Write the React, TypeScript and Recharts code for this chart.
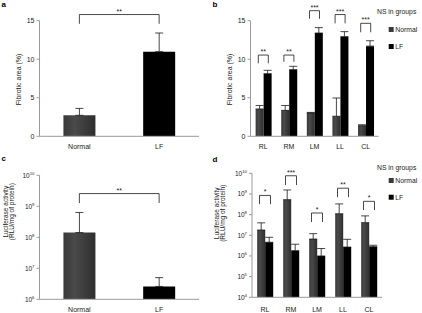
import React from "react";
import {
  Bar,
  BarChart,
  Cell,
  ErrorBar,
  Legend,
  ReferenceLine,
  XAxis,
  YAxis,
} from "recharts";

// panels a/c: whole lung, Normal vs LF
const groups = ["Normal", "LF"];
const fibroticMean = [2.72, 10.98];
const fibroticErr = [0.9, 2.42];
const fibroticBracket = [15.8, 14.6]; // top, foot
const lucMean = [1.42e8, 2.6e6];
const lucErr = [4.9e8, 2.4e6];
const lucBracket = [2.57e9, 1.27e9];

// panels b/d: per lobe
const lobes = ["RL", "RM", "LM", "LL", "CL"];
const lobeFibNormal = [3.55, 3.37, 3.03, 2.6, 1.38];
const lobeFibNormalErr = [0.45, 0.63, 0.07, 2.37, 0.12];
const lobeFibLF = [8.13, 8.65, 13.4, 12.93, 11.7];
const lobeFibLFErr = [0.43, 0.43, 0.7, 0.65, 0.7];
const lobeFibTop = [10.54, 10.54, 16.3, 15.8, 14.66];
const lobeFibFoot = [9.47, 9.67, 15.25, 14.66, 13.5];
const lobeFibMarks = ["**", "**", "***", "***", "***"];

const lobeLucNormal = [1.8e7, 5.3e8, 6.6e6, 1.1e8, 4.1e7];
const lobeLucNormalErr = [2.2e7, 1.03e9, 5.4e6, 2.2e8, 4.6e7];
const lobeLucLF = [4.6e6, 1.8e6, 1.0e6, 2.7e6, 2.8e6];
const lobeLucLFErr = [3.4e6, 1.9e6, 1.3e6, 3.7e6, 0.5e6];
const lobeLucTop = [8.5e8, 7.6e9, 1.2e8, 1.9e9, 4.4e8];
const lobeLucFoot = [3.2e8, 2.7e9, 4.4e7, 7.0e8, 1.66e8];
const lobeLucMarks = ["*", "***", "*", "**", "*"];

const areaTicks = [0, 5, 10, 15];
const lucTicksC = [1e6, 1e7, 1e8, 1e9, 1e10];
const lucTicksD = [1e4, 1e5, 1e6, 1e7, 1e8, 1e9, 1e10];

const FONT = "'Liberation Sans', Arial, Helvetica, sans-serif";
const AXIS = "#9a9a9a";
const INK = "#1a1a1a";
const swatch: Record<string, string> = { Normal: "#3a3a3a", LF: "#000" };

const rowsA = groups.map((g, i) => ({ group: g, mean: fibroticMean[i], err: [0, fibroticErr[i]] }));
const rowsC = groups.map((g, i) => ({ group: g, mean: lucMean[i], err: [0, lucErr[i]] }));
const rowsB = lobes.map((l, i) => ({
  lobe: l,
  normal: lobeFibNormal[i],
  normalErr: [0, lobeFibNormalErr[i]],
  lf: lobeFibLF[i],
  lfErr: [0, lobeFibLFErr[i]],
}));
const rowsD = lobes.map((l, i) => ({
  lobe: l,
  normal: lobeLucNormal[i],
  normalErr: [0, lobeLucNormalErr[i]],
  lf: lobeLucLF[i],
  lfErr: [0, lobeLucLFErr[i]],
}));

function PowerTick(props: any) {
  const { x, y, payload } = props;
  const exp = Math.round(Math.log10(payload.value));
  return (
    <text x={x} y={y} dy={2.4} textAnchor="end" fontSize={6.5} fill={INK}>
      10
      <tspan dy={-3} fontSize={4.3}>
        {exp}
      </tspan>
    </text>
  );
}

function AxisTitle({ tx, ty, lines, size = 7, gap = 7.5 }: any) {
  return (
    <text transform={`translate(${tx},${ty}) rotate(-90)`} textAnchor="middle" fontSize={size} fill={INK}>
      {lines.map((t: string, i: number) => (
        <tspan key={t} x={0} dy={i === 0 ? 0 : gap}>
          {t}
        </tspan>
      ))}
    </text>
  );
}

// bracket between two bars; a single-category segment is widened by `half`
const bracket = (half: number) => (p: any) => {
  const { x1, y1, x2, y2 } = p;
  const l = x1 === x2 ? x1 - half : Math.min(x1, x2);
  const r = x1 === x2 ? x1 + half : Math.max(x1, x2);
  const top = Math.min(y1, y2);
  const bot = Math.max(y1, y2);
  return <path d={`M${l},${bot}V${top}H${r}V${bot}`} fill="none" stroke={INK} strokeWidth={0.8} />;
};

function GroupKey({ firstGap, rowGap }: any) {
  return (
    <svg width={46} height={52} style={{ display: "block", overflow: "visible" }}>
      <text x={0} y={8} fontSize={6.8} fill={INK}>
        NS in groups
      </text>
      {groups.map((g, i) => {
        const cy = 5.5 + firstGap + i * rowGap;
        return (
          <g key={g}>
            <rect x={11.7} y={cy - 2.5} width={5} height={5} fill={swatch[g]} />
            <text x={18.3} y={cy + 2.4} fontSize={6.8} fill={INK}>
              {g}
            </text>
          </g>
        );
      })}
    </svg>
  );
}

function Grad({ id }: { id: string }) {
  return (
    <defs>
      <linearGradient id={id} x1="0" y1="0" x2="1" y2="0">
        <stop offset="0" stopColor="#383838" />
        <stop offset="0.35" stopColor="#4a4a4a" />
        <stop offset="1" stopColor="#2e2e2e" />
      </linearGradient>
    </defs>
  );
}

const tickStyle = { fontSize: 7, fill: INK };

function PanelA() {
  return (
    <BarChart width={211} height={155} data={rowsA} margin={{ top: 20.7, right: 12, bottom: 0.7, left: 0 }} barCategoryGap="30%">
      <Grad id="gradA" />
      <XAxis dataKey="group" tickLine={false} stroke={AXIS} height={18} tick={tickStyle} />
      <YAxis
        width={39.5}
        domain={[0, 15]}
        ticks={areaTicks}
        interval={0}
        allowDataOverflow
        tickSize={3}
        tickMargin={2}
        stroke={AXIS}
        tick={tickStyle}
        label={<AxisTitle tx={20.8} ty={79.5} lines={["Fibrotic area (%)"]} />}
      />
      <Bar dataKey="mean" isAnimationActive={false}>
        {rowsA.map((r) => (
          <Cell key={r.group} fill={r.group === "Normal" ? "url(#gradA)" : "#000"} />
        ))}
        <ErrorBar dataKey="err" width={4} stroke={INK} strokeWidth={0.8} isAnimationActive={false} />
      </Bar>
      <ReferenceLine
        segment={[
          { x: groups[0], y: fibroticBracket[0] },
          { x: groups[1], y: fibroticBracket[1] },
        ]}
        ifOverflow="visible"
        shape={bracket(0)}
        label={{ value: "**", position: "top", offset: 1, fontSize: 7, fill: INK }}
      />
    </BarChart>
  );
}

function PanelB() {
  return (
    <BarChart width={211} height={155} data={rowsB} margin={{ top: 20.7, right: 43.5, bottom: 0.7, left: 0 }} barCategoryGap="20%" barGap={0}>
      <Grad id="gradB" />
      <XAxis dataKey="lobe" tickLine={false} stroke={AXIS} height={18} tick={tickStyle} interval={0} />
      <YAxis
        width={39.5}
        domain={[0, 15]}
        ticks={areaTicks}
        interval={0}
        allowDataOverflow
        tickSize={3}
        tickMargin={2}
        stroke={AXIS}
        tick={tickStyle}
        label={<AxisTitle tx={20.8} ty={79.5} lines={["Fibrotic area (%)"]} />}
      />
      <Bar dataKey="normal" name="Normal" fill="url(#gradB)" isAnimationActive={false}>
        <ErrorBar dataKey="normalErr" width={4} stroke={INK} strokeWidth={0.8} isAnimationActive={false} />
      </Bar>
      <Bar dataKey="lf" name="LF" fill="#000" isAnimationActive={false}>
        <ErrorBar dataKey="lfErr" width={4} stroke={INK} strokeWidth={0.8} isAnimationActive={false} />
      </Bar>
      {lobes.map((l, i) => (
        <ReferenceLine
          key={l}
          segment={[
            { x: l, y: lobeFibTop[i] },
            { x: l, y: lobeFibFoot[i] },
          ]}
          ifOverflow="visible"
          shape={bracket(5)}
          label={{ value: lobeFibMarks[i], position: "top", offset: 1, fontSize: 7, fill: INK }}
        />
      ))}
      <Legend
        layout="vertical"
        align="center"
        verticalAlign="middle"
        wrapperStyle={{ left: 166, top: 5.5, width: 46, height: 52 }}
        content={<GroupKey firstGap={18} rowGap={17} />}
      />
    </BarChart>
  );
}

function PanelC() {
  return (
    <BarChart width={211} height={158} data={rowsC} margin={{ top: 20.3, right: 12, bottom: 0.7, left: 0 }} barCategoryGap="30%">
      <Grad id="gradC" />
      <XAxis dataKey="group" tickLine={false} stroke={AXIS} height={13} tick={tickStyle} />
      <YAxis
        width={39.5}
        scale="log"
        domain={[1e6, 1e10]}
        ticks={lucTicksC}
        interval={0}
        allowDataOverflow
        tickSize={3}
        tickMargin={2}
        stroke={AXIS}
        tick={<PowerTick />}
        label={<AxisTitle tx={8} ty={56.7} size={6.5} gap={5.5} lines={["Luciferase activity", "(RLU/mg of protein)"]} />}
      />
      <Bar dataKey="mean" isAnimationActive={false}>
        {rowsC.map((r) => (
          <Cell key={r.group} fill={r.group === "Normal" ? "url(#gradC)" : "#000"} />
        ))}
        <ErrorBar dataKey="err" width={4} stroke={INK} strokeWidth={0.8} isAnimationActive={false} />
      </Bar>
      <ReferenceLine
        segment={[
          { x: groups[0], y: lucBracket[0] },
          { x: groups[1], y: lucBracket[1] },
        ]}
        ifOverflow="visible"
        shape={bracket(0)}
        label={{ value: "**", position: "top", offset: 1, fontSize: 7, fill: INK }}
      />
    </BarChart>
  );
}

function PanelD() {
  return (
    <BarChart width={211} height={158} data={rowsD} margin={{ top: 18.3, right: 40, bottom: 0.7, left: 0 }} barCategoryGap="20%" barGap={0}>
      <Grad id="gradD" />
      <XAxis dataKey="lobe" tickLine={false} tickSize={8} stroke={AXIS} height={15} tick={tickStyle} interval={0} />
      <YAxis
        width={41}
        scale="log"
        domain={[1e4, 1e10]}
        ticks={lucTicksD}
        interval={0}
        allowDataOverflow
        tickSize={3}
        tickMargin={2}
        stroke={AXIS}
        tick={<PowerTick />}
        label={<AxisTitle tx={8} ty={58.3} size={6.5} gap={5.5} lines={["Luciferase activity", "(RLU/mg of protein)"]} />}
      />
      <Bar dataKey="normal" name="Normal" fill="url(#gradD)" isAnimationActive={false}>
        <ErrorBar dataKey="normalErr" width={4} stroke={INK} strokeWidth={0.8} isAnimationActive={false} />
      </Bar>
      <Bar dataKey="lf" name="LF" fill="#000" isAnimationActive={false}>
        <ErrorBar dataKey="lfErr" width={4} stroke={INK} strokeWidth={0.8} isAnimationActive={false} />
      </Bar>
      {lobes.map((l, i) => (
        <ReferenceLine
          key={l}
          segment={[
            { x: l, y: lobeLucTop[i] },
            { x: l, y: lobeLucFoot[i] },
          ]}
          ifOverflow="visible"
          shape={bracket(5.5)}
          label={{ value: lobeLucMarks[i], position: "top", offset: 1, fontSize: 7, fill: INK }}
        />
      ))}
      <Legend
        layout="vertical"
        align="center"
        verticalAlign="middle"
        wrapperStyle={{ left: 166, top: 6.8, width: 46, height: 52 }}
        content={<GroupKey firstGap={13} rowGap={16.7} />}
      />
    </BarChart>
  );
}

const letter = (t: string, left: number, top: number) => (
  <div style={{ position: "absolute", left, top, fontSize: 8, fontWeight: "bold", lineHeight: "8px", color: "#000" }}>
    {t}
  </div>
);

export default function App() {
  return (
    <div
      style={{
        position: "absolute",
        left: 0,
        top: 0,
        width: 422,
        height: 313,
        background: "#fff",
        fontFamily: FONT,
        overflow: "hidden",
      }}
    >
      <div style={{ position: "absolute", left: 0, top: 0 }}>
        <PanelA />
      </div>
      <div style={{ position: "absolute", left: 211, top: 0 }}>
        <PanelB />
      </div>
      <div style={{ position: "absolute", left: 0, top: 155 }}>
        <PanelC />
      </div>
      <div style={{ position: "absolute", left: 211, top: 155 }}>
        <PanelD />
      </div>
      {letter("a", 1.5, 0.5)}
      {letter("b", 212.5, 1)}
      {letter("c", 1.5, 155.3)}
      {letter("d", 212.5, 156)}
    </div>
  );
}
